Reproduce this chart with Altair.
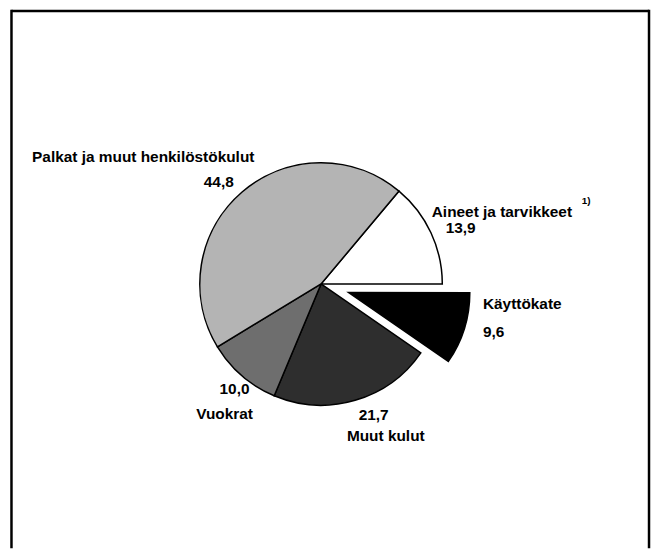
import math
import altair as alt
import pandas as pd

# ---- data ----
categories = ["Aineet ja tarvikkeet", "Käyttökate", "Muut kulut", "Vuokrat",
              "Palkat ja muut henkilöstökulut"]
values = [13.9, 9.6, 21.7, 10.0, 44.8]
value_labels = ["13,9", "9,6", "21,7", "10,0", "44,8"]
fills = ["#ffffff", "#000000", "#2e2e2e", "#6e6e6e", "#b4b4b4"]

df = pd.DataFrame({
    "cat": categories,
    "val": values,
    "lab": value_labels,
    "order": list(range(len(categories))),
    "fill": fills,
})

FONT = "Liberation Sans"
W, H = 648, 542
CX, CY = 315, 276          # pie centre inside the view
R = 122                    # pie radius
START = math.radians(40)   # angle where the first slice begins

theta_scale = alt.Scale(domain=[0, 100], range=[START, START + 2 * math.pi])

base = alt.Chart(df).transform_window(
    end="sum(val)", sort=[alt.SortField("order")], frame=[None, 0]
).transform_calculate(
    start="datum.end - datum.val", mid="datum.end - datum.val / 2"
)

arc_enc = dict(
    theta=alt.Theta("start:Q", stack=None, scale=theta_scale),
    theta2="end:Q",
    fill=alt.Fill("fill:N", scale=None, legend=None),
    x=alt.value(CX),
    y=alt.value(CY),
)

pie = base.transform_filter(alt.datum.cat != "Käyttökate").mark_arc(
    outerRadius=R, stroke="black", strokeWidth=1.5
).encode(**arc_enc)

# exploded slice, pushed out along its mid angle
off = 29
mid_ang = START + (13.9 + 9.6 / 2) / 100 * 2 * math.pi
exploded = base.transform_filter(alt.datum.cat == "Käyttökate").mark_arc(
    outerRadius=R, stroke="black", strokeWidth=1.5,
    xOffset=off * math.sin(mid_ang), yOffset=-off * math.cos(mid_ang)
).encode(**arc_enc)

# label layers: (category, field or constant, align, dx, dy, size)
label_specs = [
    ("Palkat ja muut henkilöstökulut", "cat", "center", -91, -25, 15.5),
    ("Palkat ja muut henkilöstökulut", "lab", "center", -15, 0, 15.5),
    ("Aineet ja tarvikkeet", "cat", "left", -11, -15, 15.5),
    ("Aineet ja tarvikkeet", "lab", "left", 3, 1, 15.5),
    ("Aineet ja tarvikkeet", "1)", "left", 140, -26, 10),
    ("Käyttökate", "cat", "left", 34, -20, 15.5),
    ("Käyttökate", "lab", "left", 34, 8, 15.5),
    ("Muut kulut", "lab", "center", 15, 2, 15.5),
    ("Muut kulut", "cat", "left", -12, 23, 15.5),
    ("Vuokrat", "lab", "center", 1, 3, 15.5),
    ("Vuokrat", "cat", "center", -9, 29, 15.5),
]

labels = []
for cat, fld, align, dx, dy, size in label_specs:
    txt = alt.Text(f"{fld}:N") if fld in ("cat", "lab") else alt.value(fld)
    labels.append(
        base.transform_filter(alt.datum.cat == cat).mark_text(
            radius=135, align=align, baseline="middle", dx=dx, dy=dy,
            font=FONT, fontSize=size, fontWeight="bold", color="black"
        ).encode(
            theta=alt.Theta("mid:Q", stack=None, scale=theta_scale),
            text=txt,
            x=alt.value(CX),
            y=alt.value(CY),
        )
    )

# frame (left, top, right)
frame_df = pd.DataFrame({"k": [0]})
fr = alt.Chart(frame_df)
frame = [
    fr.mark_rule(color="black", strokeWidth=2.5).encode(
        x=alt.value(3.5), y=alt.value(0), y2=alt.value(H)),
    fr.mark_rule(color="black", strokeWidth=2.5).encode(
        x=alt.value(645), y=alt.value(0), y2=alt.value(H)),
    fr.mark_rule(color="black", strokeWidth=2.5).encode(
        x=alt.value(3.5), x2=alt.value(645), y=alt.value(1.25)),
]

chart = alt.layer(pie, exploded, *labels, *frame).properties(
    width=W, height=H,
    autosize=alt.AutoSizeParams(type="none"),
    padding={"left": 0, "top": 0, "right": 0, "bottom": 0},
).configure_view(stroke=None)

chart.save("out.html", embed_options={"renderer": "svg", "actions": False})
